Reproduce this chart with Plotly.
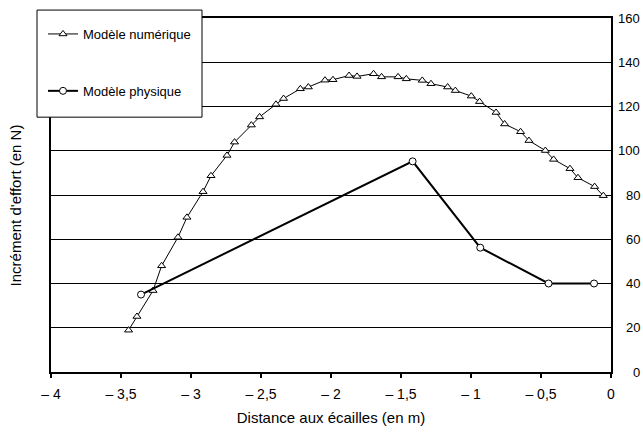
import plotly.graph_objects as go

# Data
num_x = [-3.446, -3.386, -3.271, -3.21, -3.093, -3.029, -2.914, -2.857, -2.743, -2.689,
         -2.569, -2.510, -2.393, -2.339, -2.219, -2.162, -2.043, -1.986, -1.871, -1.814,
         -1.696, -1.639, -1.521, -1.462, -1.348, -1.286, -1.167, -1.112, -0.998, -0.939,
         -0.821, -0.76, -0.646, -0.586, -0.469, -0.410, -0.293, -0.236, -0.117, -0.055]
num_y = [18.9, 25.1, 36.8, 48.0, 60.9, 69.9, 81.5, 88.7, 97.9, 103.9,
         111.6, 115.3, 121.0, 123.6, 128.0, 128.8, 131.9, 132.1, 134.0, 133.6,
         134.8, 133.4, 133.4, 132.5, 131.8, 130.3, 128.8, 127.2, 124.7, 122.2,
         117.3, 112.1, 108.6, 104.6, 100.1, 96.1, 91.9, 87.8, 83.8, 79.7]

phys_x = [-3.357, -1.417, -0.934, -0.446, -0.121]
phys_y = [35.0, 95.2, 56.2, 40.0, 40.0]

x_tickvals = [-4, -3.5, -3, -2.5, -2, -1.5, -1, -0.5, 0]
x_ticktext = ["\u2013 4", "\u2013 3,5", "\u2013 3", "\u2013 2,5", "\u2013 2",
              "\u2013 1,5", "\u2013 1", "\u2013 0,5", "0"]
y_tickvals = [0, 20, 40, 60, 80, 100, 120, 140, 160]

FONT = "Liberation Sans, Arial, sans-serif"

fig = go.Figure()
fig.add_trace(go.Scatter(
    x=num_x, y=num_y, mode="lines+markers", name="Modèle numérique",
    legendgroup="a",
    line=dict(color="black", width=1),
    marker=dict(symbol="triangle-up", size=7, color="white",
                line=dict(color="black", width=1)),
))
fig.add_trace(go.Scatter(
    x=phys_x, y=phys_y, mode="lines+markers", name="Modèle physique",
    legendgroup="b",
    line=dict(color="black", width=2),
    marker=dict(symbol="circle", size=7, color="white",
                line=dict(color="black", width=1)),
))

L, R, T, B = 51, 32, 18, 61
W, H = 643, 436
pw, ph = W - L - R, H - T - B

def px2paper_x(px):
    return (px - L) / pw

def px2paper_y(py):
    return (H - B - py) / ph

fig.update_layout(
    width=W, height=H,
    margin=dict(l=L, r=R, t=T, b=B),
    paper_bgcolor="white", plot_bgcolor="white",
    font=dict(family=FONT, color="black", size=13),
    showlegend=True,
    legend=dict(
        x=px2paper_x(43), y=px2paper_y(19), xanchor="left", yanchor="top",
        bgcolor="rgba(0,0,0,0)", borderwidth=0,
        font=dict(size=13, family=FONT),
        tracegroupgap=37, itemwidth=30,
    ),
    xaxis=dict(
        range=[-4, 0], tickvals=x_tickvals, ticktext=x_ticktext,
        showgrid=False, zeroline=False,
        showline=True, linecolor="black", linewidth=1.5, mirror=True,
        ticks="outside", ticklen=4, tickcolor="black", tickwidth=1.5,
        tickfont=dict(size=14), ticklabelstandoff=4,
        title=dict(text="Distance aux écailles (en m)", font=dict(size=15), standoff=12),
    ),
    xaxis2=dict(
        range=[-4, 0], tickvals=x_tickvals, overlaying="x", side="bottom",
        anchor="y", matches="x", showticklabels=False, showgrid=False,
        zeroline=False, ticks="inside", ticklen=4, tickcolor="black", tickwidth=1.5,
    ),
    yaxis=dict(
        range=[0, 160], tickvals=y_tickvals, showticklabels=False,
        showgrid=True, gridcolor="black", gridwidth=1, zeroline=False,
        showline=True, linecolor="black", linewidth=1.5, mirror=True,
        side="right", ticks="",
    ),
)

# Right-aligned y tick labels
for v in y_tickvals:
    fig.add_annotation(x=px2paper_x(642), y=v, xref="paper", yref="y",
                       text=str(v), showarrow=False, xanchor="right",
                       yanchor="middle", font=dict(size=13, family=FONT))

# Y axis title on the left
fig.add_annotation(x=px2paper_x(15), y=px2paper_y(207), xref="paper", yref="paper",
                   text="Incrément d'effort (en N)", textangle=-90,
                   showarrow=False, xanchor="center", yanchor="middle",
                   font=dict(size=15, family=FONT))

# Legend frame
fig.add_shape(type="rect", xref="paper", yref="paper",
              x0=px2paper_x(37), x1=px2paper_x(202),
              y0=px2paper_y(118), y1=px2paper_y(10),
              fillcolor="white", line=dict(color="black", width=1), layer="above")

fig.write_html("out.html")
